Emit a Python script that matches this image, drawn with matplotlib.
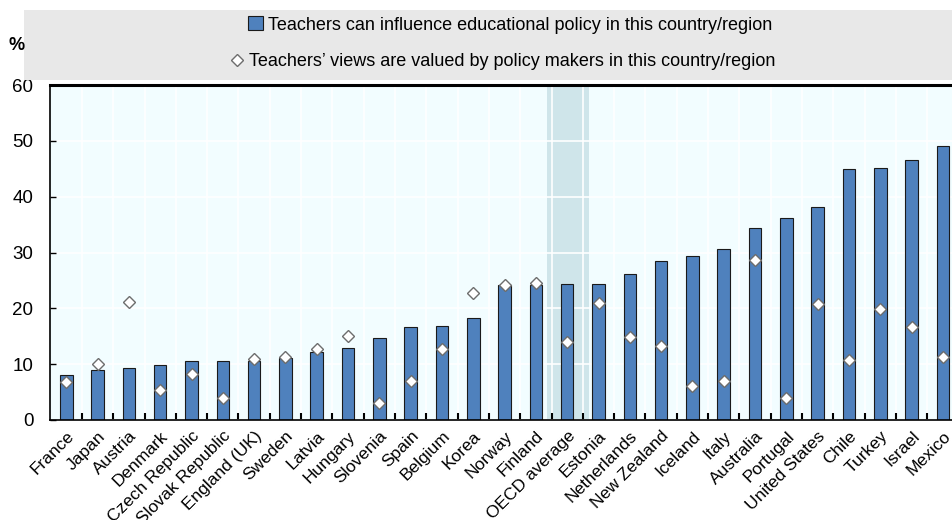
import matplotlib
matplotlib.use("Agg")
import matplotlib.pyplot as plt
from matplotlib.patches import Rectangle
from matplotlib.lines import Line2D
from matplotlib import font_manager
import numpy as np

names = {f.name for f in font_manager.fontManager.ttflist}
base_font = "Liberation Sans" if "Liberation Sans" in names else "DejaVu Sans"
narrow_font = "Liberation Sans Narrow" if "Liberation Sans Narrow" in names else base_font
plt.rcParams['font.family'] = [base_font, 'DejaVu Sans']

countries = ["France", "Japan", "Austria", "Denmark", "Czech Republic", "Slovak Republic",
             "England (UK)", "Sweden", "Latvia", "Hungary", "Slovenia", "Spain", "Belgium",
             "Korea", "Norway", "Finland", "OECD average", "Estonia", "Netherlands",
             "New Zealand", "Iceland", "Italy", "Australia", "Portugal", "United States",
             "Chile", "Turkey", "Israel", "Mexico"]
influence = [8.0, 9.0, 9.4, 9.9, 10.6, 10.6, 10.6, 11.1, 12.1, 12.9, 14.6, 16.6, 16.8,
             18.2, 24.2, 24.2, 24.4, 24.4, 26.2, 28.5, 29.3, 30.7, 34.3, 36.2, 38.2,
             44.9, 45.1, 46.5, 49.0]
valued = [6.8, 10.0, 21.1, 5.3, 8.2, 4.0, 11.0, 11.3, 12.7, 15.1, 3.0, 6.9, 12.8,
          22.8, 24.1, 24.5, 14.0, 21.0, 14.9, 13.3, 6.1, 6.9, 28.7, 3.9, 20.7,
          10.7, 19.8, 16.6, 11.2]
yticks = [0, 10, 20, 30, 40, 50, 60]
legend_labels = ["Teachers can influence educational policy in this country/region",
                 "Teachers\u2019 views are valued by policy makers in this country/region"]

fig = plt.figure(figsize=(9.52, 5.2), dpi=100)
ax = fig.add_axes([50/952, 100/520, 902/952, 335/520])

n = len(countries)
x = np.arange(n)
ax.set_facecolor("#f2fdff")
oecd_idx = countries.index("OECD average")
ax.axvspan(oecd_idx - 0.65, oecd_idx + 0.68, color="#cfe5ea", zorder=0.5, lw=0)

ax.bar(x, influence, width=0.4, color="#4f81bd", edgecolor="#1a1a1a", linewidth=0.8, zorder=2)
ax.plot(x, valued, linestyle="none", marker="D", markersize=6.5, markerfacecolor="white",
        markeredgecolor="#6d6d6d", markeredgewidth=1.0, zorder=3)

ax.set_xlim(-0.52, n - 1 + 0.29)
ax.set_ylim(0, 60)
ax.set_yticks(yticks)
ax.set_yticklabels([str(v) for v in yticks], fontsize=13.5)
ax.set_xticks(x)
ax.set_xticklabels(countries, rotation=45, ha="right", rotation_mode="anchor", fontsize=12.5)
ax.tick_params(axis="x", which="major", length=0, pad=6)
ax.set_xticks(np.arange(n - 1) + 0.5, minor=True)
ax.tick_params(axis="x", which="minor", direction="in", length=5, width=1.5, color="black")
ax.tick_params(axis="y", which="major", direction="in", length=4, width=1, pad=12)

ax.grid(True, which="major", axis="y", color="white", linewidth=1.2, zorder=1)
ax.grid(True, which="minor", axis="x", color="white", linewidth=1.2, zorder=1)
ax.set_axisbelow(True)

for s in ["left", "bottom"]:
    ax.spines[s].set_linewidth(1.2)
ax.spines["top"].set_linewidth(2.2)
ax.spines["right"].set_visible(False)

# legend background
fig.patches.append(Rectangle((24/952, 1 - 80/520), 928/952, 70/520, transform=fig.transFigure,
                             facecolor="#e8e8e8", edgecolor="none", zorder=0))
h1 = Rectangle((0, 0), 1, 1, facecolor="#4f81bd", edgecolor="#1a1a1a", linewidth=0.8)
h2 = Line2D([], [], linestyle="none", marker="D", markersize=6.5, markerfacecolor="white",
            markeredgecolor="#6d6d6d", markeredgewidth=1.0)
lg1 = fig.legend([h1], [legend_labels[0]], loc="center", bbox_to_anchor=(0.536, 1 - 25/520),
                 frameon=False, handlelength=0.8, handleheight=0.8, handletextpad=0.3,
                 prop={"family": narrow_font, "size": 13})
lg2 = fig.legend([h2], [legend_labels[1]], loc="center", bbox_to_anchor=(0.528, 1 - 62/520),
                 frameon=False, handlelength=0.8, handletextpad=0.3,
                 prop={"family": narrow_font, "size": 13})
fig.text(17/952, 1 - 46/520, "%", fontsize=13, fontweight="bold", ha="center", va="center")

fig.savefig("out.png", dpi=100)
